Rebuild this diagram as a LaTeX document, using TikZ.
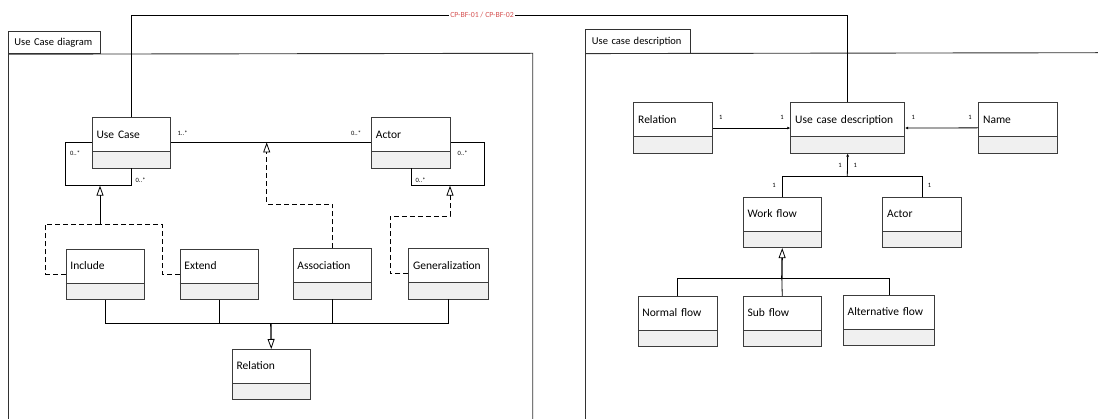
\documentclass[tikz,border=0pt]{standalone}
\usepackage{fontspec}
\setmainfont{Carlito}
\usetikzlibrary{arrows.meta}

\definecolor{boxline}{RGB}{60,60,60}
\definecolor{lowfill}{RGB}{240,240,240}
\definecolor{frameline}{RGB}{50,50,50}
\definecolor{tagred}{RGB}{214,84,84}

\tikzset{
  % UML class box: name compartment on top, empty grey compartment below
  cls/.style={draw=boxline, line width=0.8pt, anchor=north west,
    inner xsep=4.5pt, inner ysep=0pt, text height=20.6pt, text depth=29.7pt,
    text width=#1pt, align=left, font=\fontsize{11.5}{13}\selectfont,
    path picture={
      \fill[lowfill] (path picture bounding box.south west) rectangle
        ([yshift=16.7pt]path picture bounding box.south east);
      \draw[boxline, line width=0.8pt]
        ([yshift=16.7pt]path picture bounding box.south west) --
        ([yshift=16.7pt]path picture bounding box.south east);
    }},
  tabbox/.style={draw=frameline, line width=0.9pt, anchor=north west,
    inner ysep=0pt, align=left, font=\fontsize{10.5}{12}\selectfont},
  frame/.style={draw=frameline, line width=0.9pt},
  conn/.style={draw=black, line width=0.8pt},
  heavy/.style={draw=black, line width=1.3pt},
  dashconn/.style={conn, dash pattern=on 5pt off 3pt},
  gentip/.style={-{Triangle[open, length=10pt, width=7pt, line width=0.8pt]}},
  owntip/.style={-{Latex[length=3pt, width=3pt]}},
  mult/.style={font=\fontsize{6.5}{7}\selectfont, inner sep=0pt},
}

\begin{document}
\begin{tikzpicture}[x=1pt, y=-1pt]
\useasboundingbox (0,0) rectangle (1098,419);
\fill[white] (0,0) rectangle (1098,419);

% ---------- frames ----------
\node[tabbox, inner xsep=5.7pt, text width=80.3pt, minimum height=22.6pt]
  (ltab) at (8.3,30.7) {Use Case diagram};
\draw[frame] (ltab.south west) -- (8.3,419);
\draw[frame] (ltab.south west) -- (532.7,53.3) -- (532.7,419);

\node[tabbox, inner xsep=6.5pt, text width=92pt, minimum height=23.4pt]
  (rtab) at (585,29.3) {Use case description};
\draw[frame] (rtab.south west) -- (585,419);
\draw[frame] (rtab.south west) -- (1098,52.7);

% ---------- use case diagram classes ----------
\node[cls=69.6] (uc)    at (91.7,117.3)  {Use Case};
\node[cls=70.3] (actor) at (371,117.3)   {Actor};
\node[cls=69.8] (inc)   at (65.5,249)    {Include};
\node[cls=69.3] (ext)   at (179.5,249)   {Extend};
\node[cls=69.8] (assoc) at (292.5,248.3) {Association};
\node[cls=70.5] (gen)   at (408.3,248.3) {Generalization};
\node[cls=69.3] (rel)   at (231.7,349)   {Relation};

% ---------- use case description classes ----------
\node[cls=69.7]  (relR) at (633.3,102.5) {Relation};
\node[cls=105]   (ucd)  at (790.3,102.5) {Use case description};
\node[cls=69.4]  (name) at (978.2,102.3) {Name};
\node[cls=69.3]  (wf)   at (742.7,197)   {Work flow};
\node[cls=69.4]  (actR) at (882.3,197)   {Actor};
\node[cls=70.2]  (nf)   at (637.5,296)   {Normal flow};
\node[cls=69.3]  (sf)   at (742.7,296)   {Sub flow};
\node[cls=82.6]  (af)   at (842.7,295)   {Alternative flow};

% ---------- routing points ----------
\coordinate (ucloop)  at (65.7,185.7);
\coordinate (acloop)  at (484.3,185.7);
\coordinate (ucmark)  at (100,185.7);
\coordinate (asmark)  at (266.7,142.45);
\coordinate (acmark)  at (450,185.7);
\coordinate (ucjoin)  at (100,224);
\coordinate (asbend)  at (266.7,204);
\coordinate (gnbend)  at (450,216);
\coordinate (reljoin) at (270.85,323.3);
\coordinate (ucdjoin) at (847.3,176);
\coordinate (wfjoin)  at (781.85,278.7);
\coordinate (trace)   at (482,15.3);

% ---------- use case diagram connectors ----------
\draw[conn] (uc.east) -- (actor.west);
\draw[conn] (uc.west) -| (ucloop) -| (uc.south);
\draw[conn] (actor.east) -| (acloop) -| (actor.south);

\draw[dashconn] (inc.west) -- ++(-19.8,0) |- (ucjoin);
\draw[dashconn] (ext.west) -- ++(-17.2,0) |- (ucjoin);
\draw[conn, gentip] (ucjoin) -- (ucmark);

\draw[dashconn, gentip] (assoc.north) |- (asbend) -- (asmark);
\draw[dashconn, gentip] (gen.west) -- ++(-18.3,0) |- (gnbend) -- (acmark);

% generalisation bus into Relation (shared middle part is heavier)
\draw[conn] (inc.south) |- (reljoin);
\draw[conn] (gen.south) |- (reljoin);
\draw[conn] (ext.south) -- (ext.south |- reljoin);
\draw[conn] (assoc.south) -- (assoc.south |- reljoin);
\draw[heavy] (ext.south |- reljoin) -- (assoc.south |- reljoin);
\draw[heavy, gentip] (reljoin) -- (rel.north);

% multiplicities
\node[mult, anchor=west] (m1) at (177.5,133)   {1..*};
\node[mult, anchor=west] (m2) at (351,133)     {0..*};
\node[mult, anchor=west] (m3) at (70,153)      {0..*};
\node[mult, anchor=west] (m4) at (135.5,180.5) {0..*};
\node[mult, anchor=west] (m5) at (457.5,153)   {0..*};
\node[mult, anchor=west] (m6) at (415.5,180.5) {0..*};

% ---------- use case description connectors ----------
\draw[conn, owntip] (relR.east) -- (ucd.west);
\draw[conn, owntip] (name.west) -- (ucd.east);
\draw[conn] (wf.north) |- (ucdjoin);
\draw[conn] (actR.north) |- (ucdjoin);
\draw[conn, owntip] (ucdjoin) -- (ucd.south);

\draw[conn] (nf.north) |- (wfjoin);
\draw[conn] (af.north) |- (wfjoin);
\draw[conn] (sf.north) -- (wfjoin);
\draw[heavy, gentip] (wfjoin) -- (wf.south);

\node[mult] (n1) at (720.7,117.3) {1};
\node[mult] (n2) at (782,117.3)   {1};
\node[mult] (n3) at (913.3,117.3) {1};
\node[mult] (n4) at (970,117.3)   {1};
\node[mult] (n5) at (840,165)     {1};
\node[mult] (n6) at (855.3,165)   {1};
\node[mult] (n7) at (774,185.7)   {1};
\node[mult] (n8) at (929.5,185.7) {1};

% ---------- trace link between the two diagrams ----------
\draw[conn] (uc.north) |- (trace) -| (ucd.north);
\node[fill=white, inner xsep=1pt, inner ysep=1pt, text=tagred,
  font=\fontsize{7.8}{9}\selectfont] (tracelabel) at (trace) {CP-BF-01 / CP-BF-02};
\end{tikzpicture}
\end{document}
